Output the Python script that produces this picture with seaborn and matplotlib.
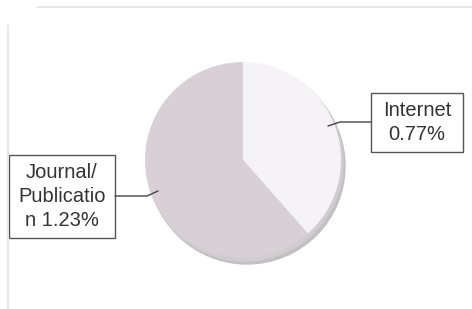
import matplotlib
matplotlib.use("Agg")
import matplotlib.pyplot as plt
import seaborn as sns
from matplotlib.patches import Circle, Rectangle
from matplotlib.lines import Line2D

# ---- data ----
categories = ["Internet", "Journal/Publication"]
values = [0.77, 1.23]
label_texts = ["Internet\n0.77%", "Journal/\nPublicatio\nn 1.23%"]
slice_colors = ["#f5f3f5", "#d8d0d6"]

sns.set_theme(style="white")
plt.rcParams['font.family'] = ['Liberation Sans', 'DejaVu Sans']

W, H = 472, 309
fig = plt.figure(figsize=(W / 100, H / 100), dpi=100)
fig.patch.set_facecolor("white")
ax = fig.add_axes([0, 0, 1, 1])

def Y(yp):
    return H - yp

cx, cy, r = 243, Y(160), 98

# shadow / 3D edge
ax.add_patch(Circle((cx + 4, cy - 6), r, color="#c2c0c2", zorder=1))
ax.add_patch(Circle((cx + 2, cy - 3), r, color="#cfcdcf", zorder=1.5))

wedges, _ = ax.pie(values, colors=slice_colors, startangle=90, counterclock=False,
                   center=(cx, cy), radius=r, wedgeprops=dict(linewidth=0))
for w in wedges:
    w.set_zorder(2)

ax.set_xlim(0, W)
ax.set_ylim(0, H)
ax.set_aspect("equal", adjustable="box")
ax.axis("off")

# label boxes
boxes = [(371, 93, 92, 59), (9, 155, 106, 83)]
for (bx, by, bw, bh), txt in zip(boxes, label_texts):
    ax.add_patch(Rectangle((bx, Y(by + bh)), bw, bh, fill=False, edgecolor="#555555",
                           linewidth=1.0, zorder=3))
    ax.text(bx + bw / 2, Y(by + bh / 2), txt, ha="center", va="center", fontsize=14.5,
            color="#333333", linespacing=1.3, zorder=4)

# leader lines
ax.add_line(Line2D([371, 340, 328], [Y(122), Y(122), Y(126)], color="#444444", lw=1, zorder=4))
ax.add_line(Line2D([115, 147, 158], [Y(196), Y(196), Y(191)], color="#444444", lw=1, zorder=4))

# faint outer frame
fig.add_artist(Line2D([37 / W, 1], [1 - 7 / H, 1 - 7 / H], transform=fig.transFigure,
                      color="#e2e2e2", lw=1.2))
fig.add_artist(Line2D([8 / W, 8 / W], [1 - 25 / H, 0], transform=fig.transFigure,
                      color="#e2e2e2", lw=1.2))

fig.savefig("out.png", dpi=100, facecolor="white")
